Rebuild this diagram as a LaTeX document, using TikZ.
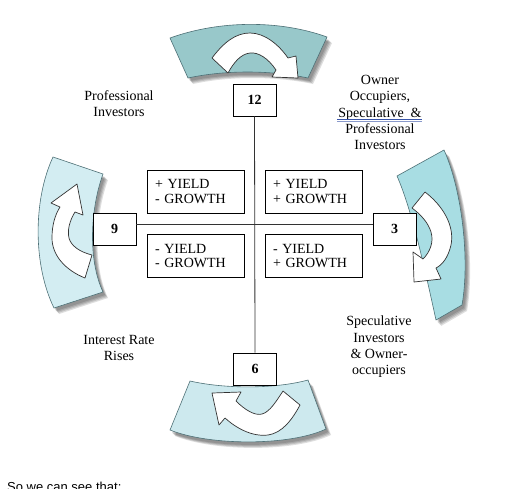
\documentclass[tikz,border=0pt]{standalone}
\usepackage{fontspec}
\setmainfont{Liberation Serif}
\newfontfamily\footfont{Liberation Sans}
\definecolor{bandTop}{HTML}{98C8CA}
\definecolor{bandRight}{HTML}{A8DDE3}
\definecolor{bandLeft}{HTML}{D3EDF2}
\definecolor{bandBottom}{HTML}{CDE9EE}
\definecolor{bandEdge}{HTML}{4E7076}
\definecolor{spellBlue}{HTML}{3A55A8}
\newcommand\pTopBand{(170,38) .. controls (220,20) and (280,20) .. (327,37) -- (308,78) .. controls (270,70) and (225,70) .. (188,78) -- cycle}
\newcommand\pBottomBand{(190,381) .. controls (225,389) and (275,389) .. (308,380) -- (326,429) .. controls (290,446) and (210,446) .. (170,430) -- cycle}
\newcommand\pRightBand{(397,176) -- (444,150) .. controls (462,190) and (470,260) .. (462,305) -- (436,320) .. controls (425,270) and (412,210) .. (397,176) -- cycle}
\newcommand\pLeftBand{(53,157) -- (103,174) .. controls (90,210) and (88,260) .. (103,292) -- (54,308) .. controls (33,265) and (33,200) .. (53,157) -- cycle}
\tikzset{
  band/.style={draw=bandEdge, line width=0.6pt},
  bandshadow/.style={fill=black, opacity=0.13},
  arrowshape/.style={fill=white, draw=black!80, line width=0.7pt, line join=round},
  numbox/.style={draw, fill=white, line width=0.6pt, minimum width=43pt, minimum height=32pt, inner sep=0pt, font=\fontsize{14}{16}\selectfont\bfseries},
  quadbox/.style={draw, fill=white, line width=0.6pt, minimum width=97pt, minimum height=43pt, inner xsep=8pt, inner ysep=0pt, text width=81pt, align=left, font=\fontsize{14}{14.5}\selectfont},
  lbl/.style={align=center, inner sep=0pt, font=\fontsize{14}{16.3}\selectfont},
  axis/.style={draw=black!80, line width=0.8pt}
}
\begin{document}
\begin{tikzpicture}[x=1pt, y=-1pt]
\useasboundingbox (0,0) rectangle (518,488);
\fill[white] (0,0) rectangle (518,488);
% shadows
\foreach \d in {2,3,4,5} {
  \fill[bandshadow, shift={(\d,\d+1)}] \pTopBand;
  \fill[bandshadow, shift={(\d,\d+1)}] \pBottomBand;
  \fill[bandshadow, shift={(\d,\d+1)}] \pRightBand;
  \fill[bandshadow, shift={(\d,\d+1)}] \pLeftBand;
}
% bands
\filldraw[band, fill=bandTop] \pTopBand;
\filldraw[band, fill=bandBottom] \pBottomBand;
\filldraw[band, fill=bandRight] \pRightBand;
\filldraw[band, fill=bandLeft] \pLeftBand;
% white curved arrows
\filldraw[arrowshape] (212,58) .. controls (224,42) and (236,33) .. (250,33) .. controls (265,33) and (279,45) .. (288,58) -- (296,56) -- (298,78) -- (272,77) -- (276,70) .. controls (268,58) and (258,52) .. (250,53) .. controls (241,54) and (234,62) .. (228,73) -- cycle;
\filldraw[arrowshape] (425,192) .. controls (442,205) and (455,225) .. (451,245) .. controls (448,258) and (442,265) .. (436,268) -- (441,279) -- (414,282) -- (413,252) -- (423,259) .. controls (430,252) and (434,242) .. (431,232) .. controls (428,222) and (420,214) .. (412,208) -- cycle;
\filldraw[arrowshape] (85,278) .. controls (65,270) and (52,255) .. (52,238) .. controls (52,225) and (55,215) .. (60,207) -- (51,203) -- (77,184) -- (83,215) -- (75,212) .. controls (70,220) and (67,230) .. (69,238) .. controls (71,246) and (80,252) .. (92,255) -- cycle;
\filldraw[arrowshape] (212,393) -- (241,392) -- (236,401) .. controls (245,410) and (255,416) .. (262,414) .. controls (270,412) and (277,400) .. (283,391) -- (300,405) .. controls (292,420) and (282,433) .. (268,435) .. controls (252,437) and (236,428) .. (225,418) -- (219,425) -- cycle;
% number boxes
\node[numbox] (b12) at (254.5,100) {12};
\node[numbox] (b9) at (114.5,229) {9};
\node[numbox] (b3) at (394.5,229) {3};
\node[numbox] (b6) at (255,369) {6};
\coordinate (c) at (255,224);
% axes
\draw[axis] (b12.south) -- (b6.north);
\draw[axis] (b9.east |- c) -- (b3.west |- c);
% quadrant boxes
\node[quadbox] (q1) at (195.5,191.5) {+ YIELD\\- GROWTH};
\node[quadbox] (q2) at (313.5,191.5) {+ YIELD\\+ GROWTH};
\node[quadbox] (q3) at (195.5,256) {- YIELD\\- GROWTH};
\node[quadbox] (q4) at (313.5,256) {- YIELD\\+ GROWTH};
% labels
\node[lbl] (l1) at (119,103.5) {Professional\\Investors};
\node[lbl] (l2) at (380,112.5) {Owner\\Occupiers,\\Speculative\ \ \&\\Professional\\Investors};
\node[lbl] (l3) at (379,347) {Speculative\\Investors\\\& Owner-\\occupiers};
\node[lbl] (l4) at (119,348) {Interest Rate\\Rises};
\draw[spellBlue, line width=0.5pt] (337,119.5) -- (422,119.5);
\draw[spellBlue!60, line width=0.5pt] (337,121) -- (422,121);
% footer (cut off by the page edge)
\node[anchor=base west, inner sep=0pt, font=\footfont\fontsize{13}{15}\selectfont] (foot) at (7,491.5) {So we can see that:};
\end{tikzpicture}
\end{document}
